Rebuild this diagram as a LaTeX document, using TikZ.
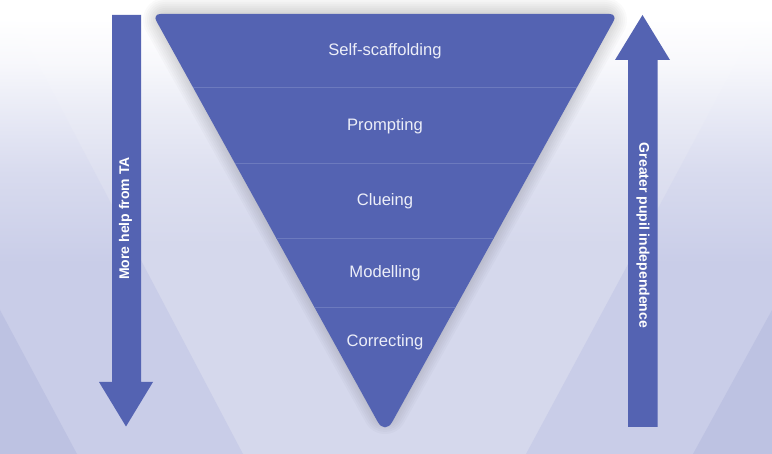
\documentclass[tikz,border=0pt]{standalone}
\usepackage{fontspec}
\setmainfont{Liberation Sans}
\definecolor{tri}{RGB}{84,99,178}
\definecolor{divider}{RGB}{108,122,190}
\definecolor{labelc}{RGB}{236,238,248}
\definecolor{bgA}{RGB}{213,216,236}
\definecolor{bgB}{RGB}{201,205,232}
\definecolor{bgC}{RGB}{189,194,226}
% the box of a shaded path spans 25bp (bottom) to 75bp (top)
\pgfdeclareverticalshading{shA}{100bp}{color(0bp)=(bgA); color(48bp)=(bgA); color(56bp)=(bgA!80!white); color(63bp)=(bgA!48!white); color(68bp)=(bgA!18!white); color(73bp)=(white); color(100bp)=(white)}
\pgfdeclareverticalshading{shB}{100bp}{color(0bp)=(bgB); color(46bp)=(bgB); color(56bp)=(bgB!72!white); color(63bp)=(bgB!40!white); color(68bp)=(bgB!15!white); color(73bp)=(white); color(100bp)=(white)}
\pgfdeclareverticalshading{shC}{100bp}{color(0bp)=(bgC); color(40bp)=(bgC); color(46bp)=(bgB); color(56bp)=(bgB!72!white); color(63bp)=(bgB!40!white); color(68bp)=(bgB!15!white); color(73bp)=(white); color(100bp)=(white)}
\tikzset{
  x=1pt,y=-1pt,
  level/.style={text=labelc,font=\fontsize{16.6}{19}\selectfont,inner sep=0pt},
  sidelabel/.style={text=white,font=\bfseries\fontsize{14}{16}\selectfont,inner sep=0pt},
  solidblue/.style={fill=tri,draw=none},
  divline/.style={draw=divider,line width=0.6pt},
}
\begin{document}
\begin{tikzpicture}
\useasboundingbox (0,0) rectangle (772,454);
% background layers
\shade[shading=shA] (0,0) rectangle (772,454);
\begin{scope}
  \clip (4,0) -- (243,454) -- (0,454) -- (0,0) -- cycle;
  \shade[shading=shB] (0,0) rectangle (772,454);
\end{scope}
\begin{scope}
  \clip (770,0) -- (526,454) -- (772,454) -- (772,0) -- cycle;
  \shade[shading=shB] (0,0) rectangle (772,454);
\end{scope}
\begin{scope}
  \clip (0,310) -- (77,454) -- (0,454) -- cycle;
  \shade[shading=shC] (0,0) rectangle (772,454);
\end{scope}
\begin{scope}
  \clip (772,310) -- (693,454) -- (772,454) -- cycle;
  \shade[shading=shC] (0,0) rectangle (772,454);
\end{scope}
% soft shadow of the triangle
\foreach \w in {4,8,...,44}{
  \draw[black,opacity=0.019,line width=\w pt,line join=round]
    (165,20) -- (605,20) -- (385,412) -- cycle;
}
% funnel
\path[solidblue,rounded corners=8pt] (152.5,14) -- (617.5,14) [rounded corners=15pt] -- (385,435) [rounded corners=8pt] -- cycle;
\draw[divline] (193,87) -- (577,87);
\draw[divline] (235,163) -- (535,163);
\draw[divline] (276,238) -- (494,238);
\draw[divline] (315,307) -- (455,307);
\node[level] (n1) at (385,51) {Self-scaffolding};
\node[level] (n2) at (385,126) {Prompting};
\node[level] (n3) at (385,201) {Clueing};
\node[level] (n4) at (385,273) {Modelling};
\node[level] (n5) at (385,342) {Correcting};
% side arrows
\path[solidblue] (112,15) -- (141,15) -- (141,382) -- (153,382) -- (126,426.5) -- (99,382) -- (112,382) -- cycle;
\path[solidblue] (628,427) -- (657.5,427) -- (657.5,60) -- (670,60) -- (642.5,15) -- (615,60) -- (628,60) -- cycle;
\node[sidelabel,rotate=90] (ta) at (125.5,218.5) {More help from TA};
\node[sidelabel,rotate=-90] (pupil) at (643,235.5) {Greater pupil independence};
\end{tikzpicture}
\end{document}
